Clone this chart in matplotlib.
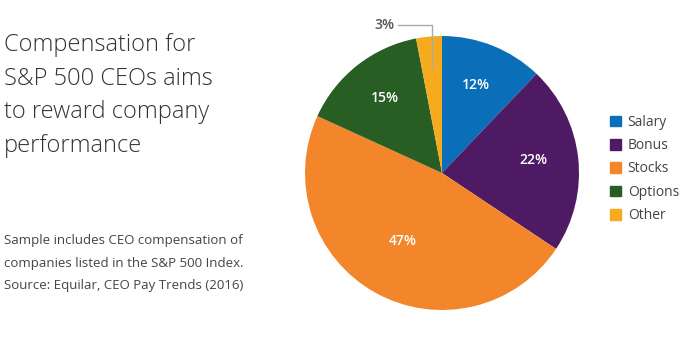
import matplotlib.pyplot as plt
import numpy as np

categories = ['Salary', 'Bonus', 'Stocks', 'Options', 'Other']
shares = [12, 22, 47, 15, 3]
colors = ['#0a6fb8', '#4f1a64', '#f3862a', '#285d24', '#f6aa1e']
label_dist = [0.67, 0.67, 0.59, 0.67, 0.77]

title = 'Compensation for\nS&P 500 CEOs aims\nto reward company\nperformance'
note = ('Sample includes CEO compensation of\n'
        'companies listed in the S&P 500 Index.\n'
        'Source: Equilar, CEO Pay Trends (2016)')

plt.rcParams['font.family'] = ['Open Sans', 'DejaVu Sans']

fig = plt.figure(figsize=(7, 3.38), dpi=100)
ax = fig.add_axes([0, 0, 1, 1])

cx, cy, r = 442, 165, 137

wedges, _ = ax.pie(shares, colors=colors, startangle=90, counterclock=False,
                   center=(cx, cy), radius=r, wedgeprops=dict(linewidth=0))
ax.set_xlim(0, 700)
ax.set_ylim(0, 338)
ax.set_aspect('equal')
ax.axis('off')

total = sum(shares)
for w, v, d in zip(wedges, shares, label_dist):
    mid = np.deg2rad((w.theta1 + w.theta2) / 2)
    x = cx + r * d * np.cos(mid)
    y = cy + r * d * np.sin(mid)
    pct = f'{v / total * 100:.0f}%'
    if v / total > 0.05:
        ax.text(x, y + 3, pct, ha='center', va='center', color='white',
                fontsize=10, fontweight='semibold')
    else:
        # small slice: leader line out to the label
        ty = 313
        ax.plot([x - 34, x, x], [ty, ty, y], color='#aaaaaa', lw=1)
        ax.text(x - 37, ty, pct, ha='right', va='center', fontsize=10,
                color='#555555', fontweight='semibold')

ax.text(4, 305, title, ha='left', va='top', fontsize=17, color='#333333',
        linespacing=1.53, fontweight='light')
ax.text(4, 104, note, ha='left', va='top', fontsize=9.5, color='#444444',
        linespacing=1.95)

handles = [plt.Rectangle((0, 0), 1, 1, color=c) for c in colors]
leg = ax.legend(handles, categories, loc='center left',
                bbox_to_anchor=(0.853, 0.5), frameon=False, fontsize=10,
                handlelength=0.8, handleheight=0.8, handletextpad=0.5,
                labelspacing=0.6)
for t in leg.get_texts():
    t.set_color('#444444')

fig.savefig('out.png', dpi=100)
